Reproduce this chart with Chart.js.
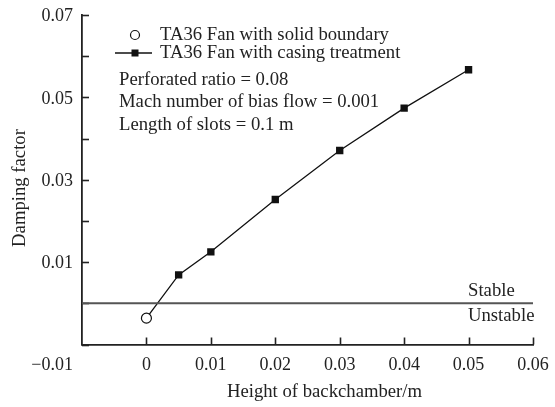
<!DOCTYPE html>
<html>
<head>
<meta charset="utf-8">
<script src="https://cdn.jsdelivr.net/npm/chart.js@4"></script>
<style>
html,body{margin:0;padding:0;background:#fff;}
#wrap{width:555px;height:407px;}
</style>
</head>
<body>
<div id="wrap"><canvas id="c" width="555" height="407"></canvas></div>
<script>
// ---- data ----
const heights = [0, 0.005, 0.01, 0.02, 0.03, 0.04, 0.05];
const casingDamping = [-0.0036, 0.0069, 0.0125, 0.0252, 0.0371, 0.0474, 0.0567];
const solidHeights = [0];
const solidDamping = [-0.0036];
const xTickValues = [0, 0.01, 0.02, 0.03, 0.04, 0.05, 0.06];
const xTickLabels = ['0', '0.01', '0.02', '0.03', '0.04', '0.05', '0.06'];
const yTickValues = [-0.01, 0, 0.01, 0.02, 0.03, 0.04, 0.05, 0.06, 0.07];
const yLabeledTicks = [0.07, 0.05, 0.03, 0.01];
const yTickLabels = ['0.07', '0.05', '0.03', '0.01'];
const cornerLabel = '\u22120.01';
const legendLabels = ['TA36 Fan with solid boundary', 'TA36 Fan with casing treatment'];
const noteLines = ['Perforated ratio = 0.08', 'Mach number of bias flow = 0.001', 'Length of slots = 0.1 m'];
const xTitle = 'Height of backchamber/m';
const yTitle = 'Damping factor';

const FONT = "'Liberation Serif','Times New Roman',serif";
const INK = '#111';
const TXT = '#222';

const extras = {
  id: 'extras',
  afterDraw(chart) {
    const ctx = chart.ctx, xs = chart.scales.x, ys = chart.scales.y;
    const ca = chart.chartArea;
    ctx.save();
    // inward ticks
    ctx.strokeStyle = '#222'; ctx.lineWidth = 1.6;
    yTickValues.forEach(v => {
      const y = Math.round(ys.getPixelForValue(v)) + 0.5;
      ctx.beginPath(); ctx.moveTo(ca.left, y); ctx.lineTo(ca.left + 7, y); ctx.stroke();
    });
    xTickValues.forEach(v => {
      const x = Math.round(xs.getPixelForValue(v)) + 0.5;
      ctx.beginPath(); ctx.moveTo(x, ca.bottom); ctx.lineTo(x, ca.bottom - 7); ctx.stroke();
    });
    // tick labels
    ctx.fillStyle = TXT;
    ctx.font = '18px ' + FONT;
    ctx.textBaseline = 'middle';
    ctx.textAlign = 'right';
    yLabeledTicks.forEach((v, i) => ctx.fillText(yTickLabels[i], 73, ys.getPixelForValue(v) + 1.5));
    ctx.fillText(cornerLabel, 73, 365);
    ctx.textAlign = 'center';
    xTickValues.forEach((v, i) => ctx.fillText(xTickLabels[i], xs.getPixelForValue(v), 365));
    // stable line
    const y0 = ys.getPixelForValue(0);
    ctx.strokeStyle = '#555'; ctx.lineWidth = 2;
    ctx.beginPath(); ctx.moveTo(ca.left, y0); ctx.lineTo(ca.right, y0); ctx.stroke();
    ctx.font = '18.7px ' + FONT;
    ctx.textAlign = 'left';
    ctx.fillText('Stable', 468, y0 - 12);
    ctx.fillText('Unstable', 468, y0 + 13);
    // legend
    ctx.fillText(legendLabels[0], 160, 35);
    ctx.fillText(legendLabels[1], 160, 53);
    ctx.strokeStyle = INK; ctx.lineWidth = 1.2;
    ctx.beginPath(); ctx.arc(135, 35, 4.5, 0, Math.PI * 2); ctx.fillStyle = '#fff'; ctx.fill(); ctx.stroke();
    ctx.beginPath(); ctx.moveTo(115, 53); ctx.lineTo(152, 53); ctx.lineWidth = 1.6; ctx.stroke();
    ctx.fillStyle = INK; ctx.fillRect(131.5, 49.5, 7, 7);
    // notes
    ctx.fillStyle = TXT;
    noteLines.forEach((t, i) => ctx.fillText(t, 119, 80 + i * 22.5));
    // axis titles
    ctx.textAlign = 'center';
    ctx.fillText(xTitle, 324.5, 392);
    ctx.translate(20, 188); ctx.rotate(-Math.PI / 2);
    ctx.fillText(yTitle, 0, 0);
    ctx.restore();
  }
};

new Chart(document.getElementById('c'), {
  type: 'scatter',
  data: {
    datasets: [
      {
        label: legendLabels[0],
        data: solidHeights.map((x, i) => ({x, y: solidDamping[i]})),
        pointStyle: 'circle', pointRadius: 5,
        pointBackgroundColor: '#fff', pointBorderColor: INK, pointBorderWidth: 1.2,
        showLine: false
      },
      {
        label: legendLabels[1],
        data: heights.map((x, i) => ({x, y: casingDamping[i]})),
        showLine: true, borderColor: INK, borderWidth: 1.3,
        pointStyle: 'rect',
        pointRadius: heights.map((h, i) => i === 0 ? 0 : 5.2),
        pointBackgroundColor: INK, pointBorderColor: INK, pointBorderWidth: 0
      }
    ]
  },
  options: {
    responsive: false,
    animation: false,
    events: [],
    layout: { padding: { top: 15, right: 22, left: 0, bottom: 0 } },
    plugins: { legend: { display: false }, tooltip: { enabled: false } },
    scales: {
      x: {
        type: 'linear', min: -0.01, max: 0.06,
        afterFit(s) { s.height = 62.5; },
        grid: { display: false, drawTicks: false },
        border: { display: true, color: '#222', width: 1.8 },
        ticks: { display: false }
      },
      y: {
        type: 'linear', min: -0.01, max: 0.07,
        afterFit(s) { s.width = 82; },
        grid: { display: false, drawTicks: false },
        border: { display: true, color: '#222', width: 1.8 },
        ticks: { display: false }
      }
    }
  },
  plugins: [extras]
});
</script>
</body>
</html>
